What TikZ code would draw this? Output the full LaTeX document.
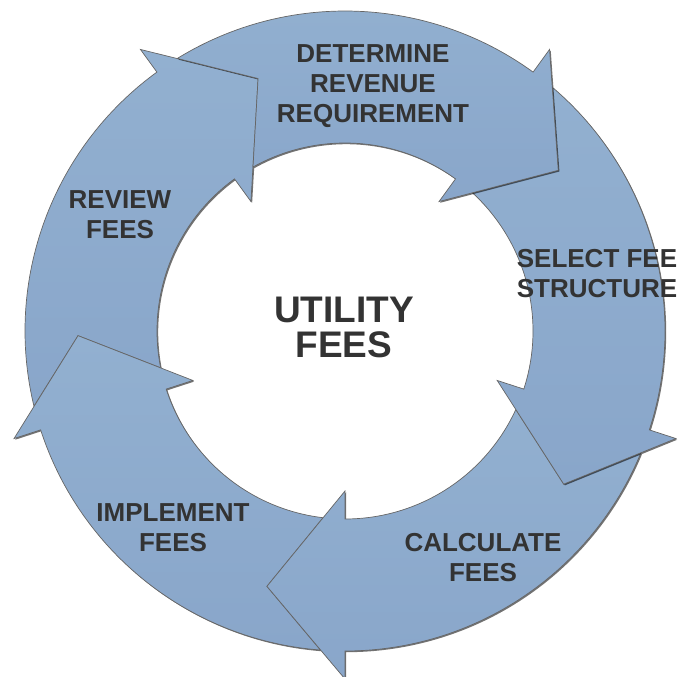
\documentclass[tikz,border=0pt]{standalone}
\usepackage{fontspec}
\setmainfont{Liberation Sans}
\usetikzlibrary{shadows}
\definecolor{ringtop}{HTML}{92B0D0}
\definecolor{ringbot}{HTML}{89A6CA}
\definecolor{edgegray}{HTML}{666666}
\definecolor{labeltext}{HTML}{333333}
\tikzset{
  cyclearrow/.style={draw=edgegray,line width=0.7pt,top color=ringtop,bottom color=ringbot,
    drop shadow={shadow xshift=1.2pt,shadow yshift=-1.2pt,opacity=0.55,fill=black}},
  steplabel/.style={align=center,text=labeltext,inner sep=0pt,font=\fontsize{26}{30}\selectfont\bfseries},
}
\begin{document}
\begin{tikzpicture}[x=1pt,y=1pt]
\useasboundingbox (-345,-346) rectangle (333,331);
% ring of arrows, drawn against the flow
\foreach \b in {126,-162,-90,-18,54}{
  \pgfmathsetmacro{\p}{\b+72}
  \draw[cyclearrow] (\p-4.4:320) arc[start angle=\p-4.4,end angle=\b,radius=320]
    -- (\b:348) -- (\b-17:267) -- (\b:160) -- (\b:188)
    arc[start angle=\b,end angle=\p-6.7,radius=188]
    -- (\p-17:267) -- cycle;
}
\node[steplabel] (revenue) at (28,245) {DETERMINE\\REVENUE\\REQUIREMENT};
\node[steplabel] (structure) at (252,57) {SELECT FEE\\STRUCTURE};
\node[steplabel] (calculate) at (138,-227) {CALCULATE\\FEES};
\node[steplabel] (implement) at (-172,-196.5) {IMPLEMENT\\FEES};
\node[steplabel] (review) at (-225,116) {REVIEW\\FEES};
\node[steplabel,font=\fontsize{37}{35}\selectfont\bfseries] (utility) at (-1,4) {UTILITY\\FEES};
\end{tikzpicture}
\end{document}
